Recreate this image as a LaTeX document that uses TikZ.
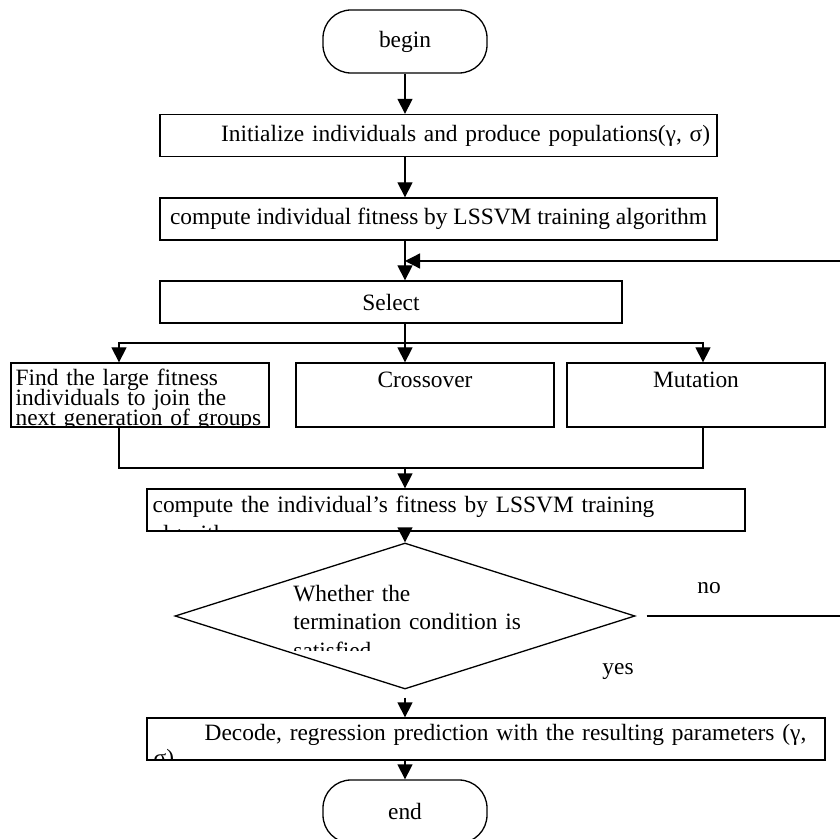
\documentclass[tikz,border=0pt]{standalone}
\usepackage{fontspec}
\setmainfont{Liberation Serif}
\usetikzlibrary{arrows.meta, positioning, calc, shapes.geometric}
\tikzset{
  gaterm/.style = {draw, line width=0.65pt, rounded corners=14pt,
                   minimum width=82pt, minimum height=31.5pt, inner sep=0pt},
  gastep/.style = {draw, line width=0.65pt, minimum height=21pt, inner sep=1pt},
  gatall/.style = {gastep, minimum width=129pt, minimum height=32pt, inner ysep=0pt},
  gadec/.style  = {draw, diamond, line width=0.65pt, minimum width=230pt,
                   minimum height=73pt, inner sep=0pt},
  gaflow/.style = {-{Triangle[length=7.5pt, width=7.5pt]}, line width=0.65pt},
  galine/.style = {line width=0.65pt},
  galbl/.style  = {inner sep=0pt},
}

\begin{document}
\begin{tikzpicture}[x=0.5pt, y=-0.5pt, font=\fontsize{11.7pt}{10pt}\selectfont]
  \useasboundingbox (0,0) rectangle (840,839);
  % main column
  \node[gaterm] (start) at (405,41.5) {begin};
  \node[gastep, minimum width=278.5pt, text width=271.5pt, align=right]
       (init) at (438.5,135.5) {Initialize individuals and produce populations(γ, σ)};
  \node[gastep, minimum width=278.5pt] (fit1) at (438.5,219)
       {compute individual fitness by LSSVM training algorithm};
  \node[gastep, minimum width=231pt] (select) at (391,302) {Select};
  % the three operators
  \node[gatall, path picture={
         \node[galbl, anchor=north west, text width=127pt, align=left,
               font={\fontsize{11.7pt}{10pt}\selectfont\lineskiplimit=-10pt}]
              at ([shift={(1pt,-2.2pt)}]path picture bounding box.north west)
              {Find the large fitness\\individuals to join the\\next generation of groups};}]
       (keep) at (140,395) {};
  \node[gatall, label={[galbl, anchor=center, yshift=-9pt]north:Crossover}]
       (cross) at (425,395) {};
  \node[gatall, label={[galbl, anchor=center, yshift=-9pt]north:Mutation}]
       (mut) at (696,395) {};
  \node[gastep, minimum width=299pt, path picture={
         \node[galbl, anchor=north west, text width=296pt, align=left,
               font=\fontsize{11.7pt}{14.5pt}\selectfont]
              at ([shift={(1pt,-3pt)}]path picture bounding box.north west)
              {compute the individual's fitness by LSSVM training\\algorithm};}]
       (fit2) at (446,510) {};
  \node[gadec] (cond) at (405,616) {};
  \begin{scope}
    \clip (290,578) rectangle (600,650);
    \node[galbl, anchor=north west, text width=150pt, align=left,
          font=\fontsize{11.7pt}{14.15pt}\selectfont] (condtxt) at (293,585)
         {Whether the\\termination condition is\\satisfied};
  \end{scope}
  \node[galbl] (lblno) at (709,588) {no};
  \node[galbl] (lblyes) at (618,672) {yes};
  \node[gastep, minimum width=339pt, path picture={
         \node[galbl, anchor=north west, text width=336pt, align=left,
               font=\fontsize{11.7pt}{12.5pt}\selectfont]
              at ([shift={(1.5pt,-3pt)}]path picture bounding box.north west)
              {\hspace*{25.5pt}Decode, regression prediction with the resulting parameters (γ,\\σ)};}]
       (decode) at (486,739) {};
  \node[gaterm] (stop) at (405,811.5) {end};

  \coordinate (split) at (405,343);
  \coordinate (merge) at (405,468);
  \coordinate (back) at (843,261);

  % connectors
  \draw[gaflow] (start.south) -- (init.north -| start);
  \draw[gaflow] (init.south -| start) -- (fit1.north -| start);
  \draw[gaflow] (fit1.south -| start) -- (select.north -| start);
  \draw[galine] (select.south -| start) -- (split);
  \draw[gaflow] (split) -- (cross.north -| split);
  \draw[gaflow] (split) -| ([xshift=-10.5pt]keep.north);
  \draw[gaflow] (split) -| ([xshift=3.5pt]mut.north);
  \draw[galine] ([xshift=-10.5pt]keep.south) |- (merge) -| ([xshift=3.5pt]mut.south);
  \draw[gaflow] (merge) -- (fit2.north -| merge);
  \draw[gaflow] (fit2.south -| start) -- (cond.north);
  \draw[gaflow] ([xshift=5.5pt]cond.east) -- (cond.east -| back) -- (back) -- (back -| start);
  \draw[gaflow] ([yshift=-4pt]cond.south) -- (decode.north -| cond.south);
  \draw[gaflow] (decode.south -| start) -- (stop.north);
\end{tikzpicture}
\end{document}
